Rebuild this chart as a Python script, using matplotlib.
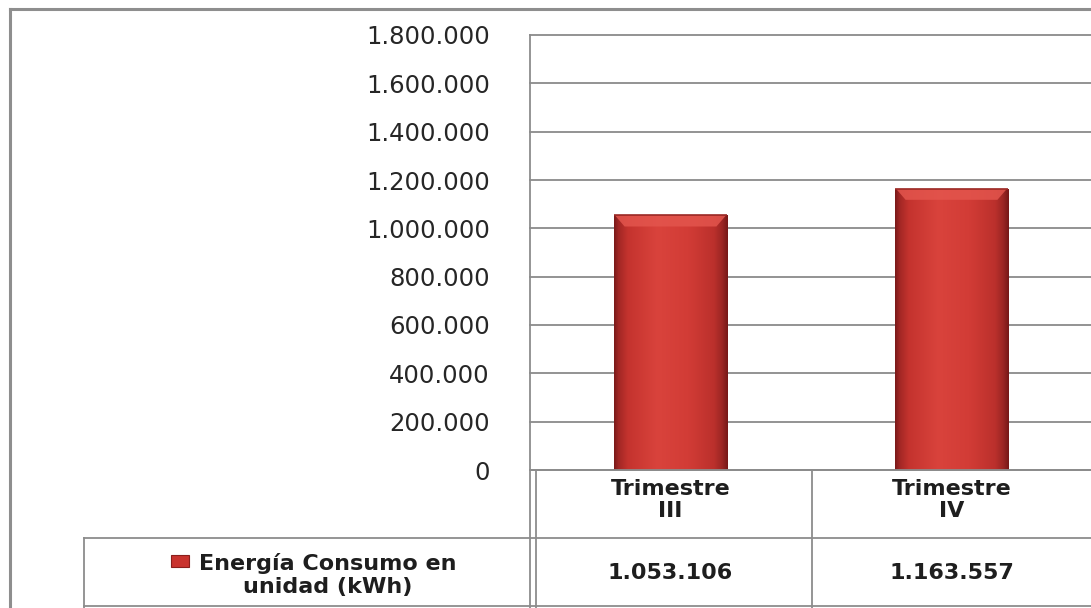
import matplotlib
matplotlib.use('Agg')
import matplotlib.pyplot as plt
import numpy as np
from matplotlib.colors import LinearSegmentedColormap
from matplotlib.lines import Line2D
from matplotlib.patches import Rectangle, Polygon
import matplotlib.transforms as mtransforms

# ---------------- data ----------------
categories = ['Trimestre\nIII', 'Trimestre\nIV']
values = [1053106, 1163557]
value_labels = ['1.053.106', '1.163.557']
series_name = 'Energía Consumo en\nunidad (kWh)'
yticks = [0, 200000, 400000, 600000, 800000, 1000000, 1200000, 1400000, 1600000, 1800000]
ytick_labels = ['0', '200.000', '400.000', '600.000', '800.000', '1.000.000',
                '1.200.000', '1.400.000', '1.600.000', '1.800.000']

# ---------------- layout (pixels) ----------------
W, H = 1091, 608
fig = plt.figure(figsize=(W / 100, H / 100), dpi=100, facecolor='white')

def fx(px):
    return px / W

def fy(py):
    return 1 - py / H

AX_L, AX_T, AX_B = 530, 35, 470
CAT_W = 281
ax = fig.add_axes([fx(AX_L), fy(AX_B), 2 * CAT_W / W, (AX_B - AX_T) / H])
ax.set_facecolor('none')

x = np.arange(len(categories))
bar_w = 0.405
bars = ax.bar(x, values, bar_w, color='#c9332e', edgecolor='none', zorder=3)

ax.set_xlim(-0.5, len(categories) - 0.5)
ax.set_ylim(yticks[0], yticks[-1])

# gradient shading of the bars (cylinder-like)
cmap = LinearSegmentedColormap.from_list('barshade', [
    (0.00, '#7a1919'), (0.04, '#a22725'), (0.12, '#c4332e'), (0.38, '#d9433c'),
    (0.65, '#d23c36'), (0.88, '#bb302c'), (0.95, '#9c2624'), (1.00, '#761818')])
grad = np.linspace(0, 1, 256).reshape(1, -1)
px_y = (yticks[-1] - yticks[0]) / (AX_B - AX_T)   # data units per pixel (y)
px_x = 1.0 / CAT_W                                   # data units per pixel (x)
for b in bars:
    x0, w, h = b.get_x(), b.get_width(), b.get_height()
    im = ax.imshow(grad, cmap=cmap, extent=(x0, x0 + w, 0, h), aspect='auto',
                   zorder=3.5, interpolation='bilinear')
    im.set_clip_path(b)
    # top bevel
    d = 11
    bevel = Polygon([(x0 + 1.5 * px_x, h), (x0 + w - 1.5 * px_x, h),
                     (x0 + w - d * px_x, h - d * px_y),
                     (x0 + d * px_x, h - d * px_y)], closed=True,
                    facecolor='#e3554d', edgecolor='none', zorder=3.8, alpha=0.85)
    ax.add_patch(bevel)
    ax.plot([x0, x0 + w], [h, h], color='#9b2a26', lw=1.2, zorder=3.9,
            solid_capstyle='butt')

ax.set_xlim(-0.5, len(categories) - 0.5)
ax.set_ylim(yticks[0], yticks[-1])

ax.set_yticks(yticks, ytick_labels)
ax.set_xticks([])
ax.tick_params(axis='y', length=0, pad=29, labelsize=17.5, labelcolor='#262626')
for s in ax.spines.values():
    s.set_visible(False)
ax.yaxis.grid(True, color='#8a8a8a', lw=1.3)
ax.set_axisbelow(True)
for gl in ax.yaxis.get_gridlines():
    gl.set_clip_on(False)
for lab in ax.get_yticklabels():
    lab.set_fontfamily('DejaVu Sans')

# ---------------- frame & table lines ----------------
LC = '#8c8c8c'

def hline(y, x0, x1, lw=1.3, c=LC):
    fig.add_artist(Line2D([fx(x0), fx(x1)], [fy(y), fy(y)], color=c, lw=lw,
                          transform=fig.transFigure, zorder=5))

def vline(xp, y0, y1, lw=1.3, c=LC):
    fig.add_artist(Line2D([fx(xp), fx(xp)], [fy(y0), fy(y1)], color=c, lw=lw,
                          transform=fig.transFigure, zorder=5))

# outer chart border
hline(8.5, 10, W + 2, lw=2.2, c='#8e8e8e')
vline(10, 8.5, H + 2, lw=2.2, c='#8e8e8e')

# plot area / table lines
vline(AX_L, AX_T, H + 2)
vline(AX_L + 6, AX_B, H + 2)
vline(AX_L + CAT_W + 1, AX_B, H + 2)
hline(AX_B, AX_L, W + 2)
hline(538, 84, W + 2)
hline(606, 84, W + 2)
vline(84, 538, H + 2)

# ---------------- table text ----------------
blend = mtransforms.blended_transform_factory(ax.transData, fig.transFigure)
TXT = '#1e1e1e'
for xi, cat, vl in zip(x, categories, value_labels):
    ax.text(xi, fy(500), cat, transform=blend, ha='center', va='center',
            fontsize=16, fontweight='bold', color=TXT, linespacing=1.15,
            family='DejaVu Sans', clip_on=False)
    ax.text(xi, fy(573), vl, transform=blend, ha='center', va='center',
            fontsize=16, fontweight='bold', color=TXT, family='DejaVu Sans',
            clip_on=False)

leg = fig.text(fx(328), fy(575), series_name, ha='center', va='center',
               fontsize=16, fontweight='bold', color=TXT, linespacing=1.22,
               family='DejaVu Sans')

fig.canvas.draw()
bb = leg.get_window_extent(fig.canvas.get_renderer())
key_x1 = bb.x0 - 10
key = Rectangle((key_x1 - 18, H - 567), 18, 12, transform=None,
                facecolor='#c9332e', edgecolor='#8a1f1c', lw=0.8, zorder=6)
fig.add_artist(key)

fig.savefig('out.png', dpi=100, facecolor='white')
